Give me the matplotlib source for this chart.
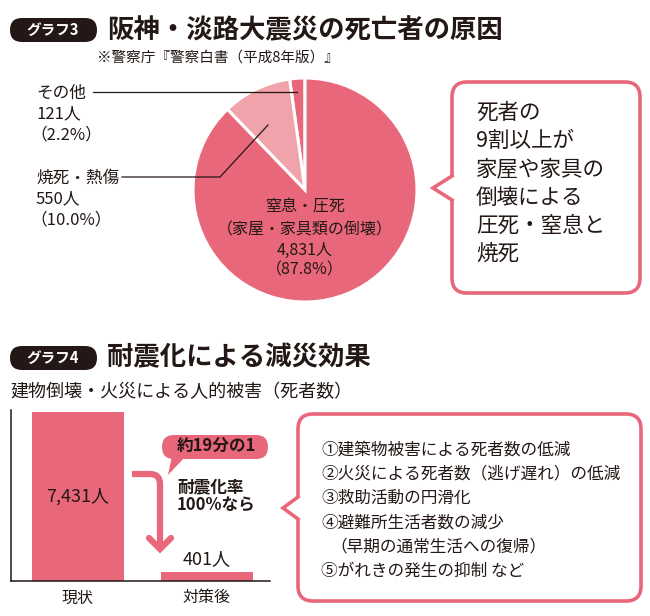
import matplotlib
matplotlib.use('Agg')
import matplotlib.pyplot as plt
from matplotlib.patches import FancyBboxPatch, Polygon, PathPatch
from matplotlib.path import Path

plt.rcParams['font.family'] = ['Noto Sans CJK JP', 'DejaVu Sans']

PINK = '#E8677A'
LIGHT = '#F0A3AA'
INK = '#231815'

# graph 3: causes of death
cause_names = ['その他', '焼死・熱傷', '窒息・圧死']
cause_counts = [121, 550, 4831]
cause_pcts = [2.2, 10.0, 87.8]
cause_colors = [PINK, LIGHT, PINK]
main_note = '（家屋・家具類の倒壊）'
source = '※警察庁『警察白書（平成8年版）』'
note3 = ['死者の', '9割以上が', '家屋や家具の', '倒壊による', '圧死・窒息と', '焼死']

# graph 4: effect of retrofitting
bar_labels = ['現状', '対策後']
bar_values = [7431, 401]
ratio_text = '約19分の1'
cond_text = ['耐震化率', '100%なら']
effects = ['①建築物被害による死者数の低減',
           '②火災による死者数（逃げ遅れ）の低減',
           '③救助活動の円滑化',
           '④避難所生活者数の減少',
           '（早期の通常生活への復帰）',
           '⑤がれきの発生の抑制 など']

W, H = 650, 616
fig = plt.figure(figsize=(W / 100, H / 100), dpi=100)

# ---- pie (graph 3)
cx, cy, r = 305, 190, 112
pax = fig.add_axes([(cx - r) / W, 1 - (cy + r) / H, 2 * r / W, 2 * r / H])
pax.pie(cause_counts, colors=cause_colors, startangle=90, counterclock=True,
        wedgeprops=dict(edgecolor='white', linewidth=2.2))
pax.set_xlim(-1, 1)
pax.set_ylim(-1, 1)
pax.set_aspect('equal')

# ---- bars (graph 4)
bax = fig.add_axes([11 / W, 1 - 581 / H, 259 / W, 171 / H])
bax.bar([0, 1], bar_values, width=0.71, color=PINK)
bax.set_xlim(-0.52, 1.49)
bax.set_ylim(0, bar_values[0] * 171 / 169)
for s in ['top', 'right']:
    bax.spines[s].set_visible(False)
for s in ['left', 'bottom']:
    bax.spines[s].set_color(INK)
    bax.spines[s].set_linewidth(1.1)
bax.set_yticks([])
bax.set_xticks([0, 1], bar_labels, fontsize=11.5, color=INK)
bax.tick_params(axis='x', length=0, pad=6)
bax.patch.set_visible(False)
bax.text(0, bar_values[0] / 2, f'{bar_values[0]:,}人', ha='center', va='center',
         fontsize=13, color=INK)
bax.annotate(f'{bar_values[1]:,}人', (1, bar_values[1]), xytext=(0, 3),
             textcoords='offset points', ha='center', va='bottom', fontsize=13, color=INK)

# ---- overlay for headers, callouts, bubbles
ax = fig.add_axes([0, 0, 1, 1])
ax.set_xlim(0, W)
ax.set_ylim(H, 0)
ax.axis('off')
ax.patch.set_visible(False)


def badge(y, label):
    ax.add_patch(FancyBboxPatch((10, y - 12), 87, 24, boxstyle='round,pad=0,rounding_size=12',
                                fc=INK, ec='none'))
    ax.text(53, y, label, ha='center', va='center', color='white', fontsize=10.5, weight='bold')


def bubble(x0, y0, x1, y1, tip, half, rad=15):
    ax.add_patch(FancyBboxPatch((x0, y0), x1 - x0, y1 - y0,
                                boxstyle=f'round,pad=0,rounding_size={rad}',
                                fc='white', ec=PINK, lw=2.6))
    ty = tip[1]
    ax.add_patch(Polygon([(x0 + 2.5, ty - half), tip, (x0 + 2.5, ty + half)], closed=True,
                         fc='white', ec='none', zorder=3))
    ax.plot([x0, tip[0], x0], [ty - half, ty, ty + half], color=PINK, lw=2.6,
            solid_joinstyle='miter', zorder=4)


# headers
badge(30, 'グラフ3')
ax.text(107, 31, '阪神・淡路大震災の死亡者の原因', ha='left', va='center', fontsize=19,
        weight='bold', color=INK)
ax.text(97, 58, source, ha='left', va='center', fontsize=10.5, color=INK)

badge(358, 'グラフ4')
ax.text(107, 358, '耐震化による減災効果', ha='left', va='center', fontsize=19,
        weight='bold', color=INK)
ax.text(10, 392, '建物倒壊・火災による人的被害（死者数）', ha='left', va='center',
        fontsize=13, color=INK)

# pie callouts
for name, cnt, pct, ys in [(cause_names[0], cause_counts[0], cause_pcts[0], (93, 114, 135)),
                           (cause_names[1], cause_counts[1], cause_pcts[1], (178, 199, 220))]:
    ax.text(36, ys[0], name, ha='left', va='center', fontsize=12, color=INK)
    ax.text(36, ys[1], f'{cnt:,}人', ha='left', va='center', fontsize=12, color=INK)
    ax.text(30, ys[2], f'（{pct:.1f}%）', ha='left', va='center', fontsize=12, color=INK)
ax.plot([93, 297], [92, 92], color=INK, lw=0.9)
ax.plot([122, 220, 268], [177, 177, 125], color=INK, lw=0.9)

main_lines = [cause_names[2], main_note, f'{cause_counts[2]:,}人', f'（{cause_pcts[2]:.1f}%）']
for txt, y in zip(main_lines, [207, 230, 250, 270]):
    ax.text(305, y, txt, ha='center', va='center', fontsize=11.5, color=INK)

# bubble for graph 3
bubble(452, 82, 640, 293, (433, 188), 12)
for txt, y in zip(note3, [113, 141, 169, 198, 226, 254]):
    ax.text(476, y, txt, ha='left', va='center', fontsize=15.5, color=INK)

# bubble for graph 4
bubble(298, 414, 641, 601, (283, 508), 11)
for txt, y in zip(effects, [450, 474, 498, 523, 547, 571]):
    x = 330 if txt.startswith('（') else 321
    ax.text(x, y, txt, ha='left', va='center', fontsize=12, color=INK)

# reduction arrow
arrow = Path([(132, 474), (150, 474), (160, 474), (160, 484), (160, 548)],
             [Path.MOVETO, Path.LINETO, Path.CURVE3, Path.CURVE3, Path.LINETO])
ax.add_patch(PathPatch(arrow, fc='none', ec=PINK, lw=4.5, capstyle='butt'))
ax.plot([149, 160, 171], [538, 549, 538], color=PINK, lw=4.5, solid_capstyle='round',
        solid_joinstyle='miter')

# ratio pill
ax.add_patch(FancyBboxPatch((162, 435), 106, 24, boxstyle='round,pad=0,rounding_size=12',
                            fc=PINK, ec='none'))
ax.add_patch(Polygon([(172, 456), (168, 475), (186, 456)], closed=True, fc=PINK, ec='none'))
ax.text(216, 447, ratio_text, ha='center', va='center', fontsize=12, weight='bold', color=INK)
ax.text(177, 487, cond_text[0], ha='left', va='center', fontsize=12, weight='bold', color=INK)
ax.text(177, 506, cond_text[1], ha='left', va='center', fontsize=12, weight='bold', color=INK)

fig.savefig('out.png', dpi=100)
